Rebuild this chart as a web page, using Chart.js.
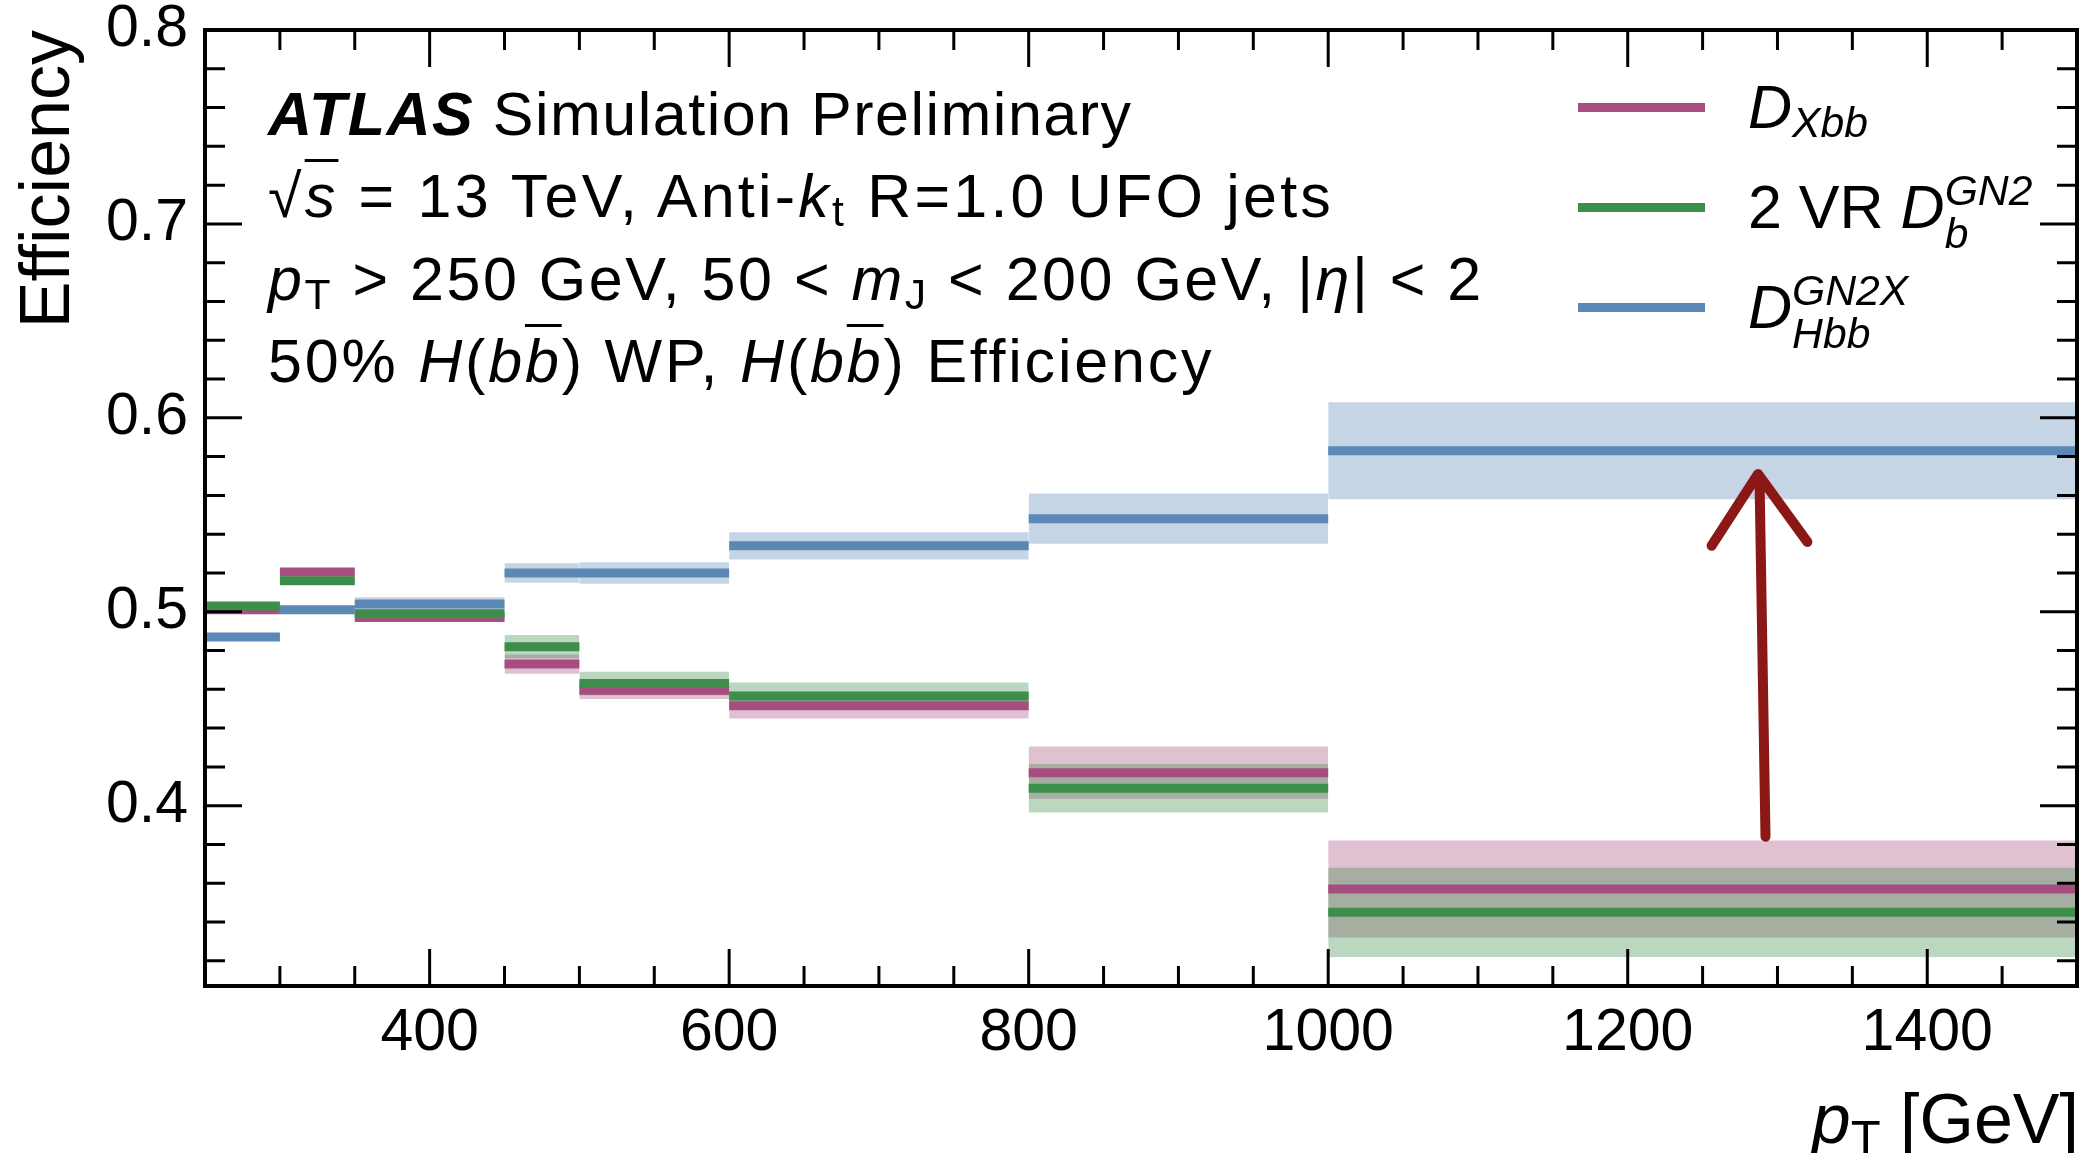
<!DOCTYPE html>
<html>
<head>
<meta charset="utf-8">
<script src="https://cdn.jsdelivr.net/npm/chart.js@4.4.1/dist/chart.umd.min.js"></script>
<style>
  html, body { margin: 0; padding: 0; background: #fff; }
  #wrap { position: relative; width: 2097px; height: 1153px; overflow: hidden;
          font-family: "Liberation Sans", Arial, sans-serif; color: #000; }
  #plot { position: absolute; left: 0; top: 0; }
  .txt { position: absolute; white-space: nowrap; font-size: 61px; line-height: 61px; }
  .note { left: 268px; letter-spacing: 1.5px; }
  .lo { position: relative; top: 0.22em; font-size: 0.7em; line-height: 0; font-style: normal; }
  .ov { text-decoration: overline; text-decoration-thickness: 3px; }
  .swatch { position: absolute; left: 1578px; width: 127px; height: 9px; }
  .leg { left: 1748px; }
  .sub { position: relative; top: 9px; font-size: 0.7em; line-height: 0; }
  .ss { display: inline-flex; flex-direction: column; vertical-align: middle;
        font-size: 0.7em; line-height: 1; margin: -20px 0; font-style: italic; }
</style>
</head>
<body>
<div id="wrap">
  <canvas id="plot" width="2097" height="1153"></canvas>
  <div class="txt note" style="top:84px"><b><i>ATLAS</i></b> Simulation Preliminary</div>
  <div class="txt note" style="top:166px; letter-spacing:3.2px">√<span class="ov"><i>s</i></span> = 13 TeV, Anti-<i>k</i><span class="lo">t</span> R=1.0 UFO jets</div>
  <div class="txt note" style="top:249px; letter-spacing:2.5px"><i>p</i><span class="lo">T</span> &gt; 250 GeV, 50 &lt; <i>m</i><span class="lo">J</span> &lt; 200 GeV, |<i>η</i>| &lt; 2</div>
  <div class="txt note" style="top:331px; letter-spacing:2.8px">50% <i>H</i>(<i>b<span class="ov">b</span></i>) WP, <i>H</i>(<i>b<span class="ov">b</span></i>) Efficiency</div>
  <div class="txt" style="right:18px; top:1084px; font-size:70px; line-height:70px"><i>p</i><span class="lo">T</span> [GeV]</div>
  <div id="legend"></div>
</div>
<script>
// pT bin edges [GeV]
const binEdges = [250, 300, 350, 450, 500, 600, 800, 1000, 1500];

// H(bb) efficiency per bin and half-width of the uncertainty band
const xbbEff = [0.501, 0.5205, 0.497, 0.473, 0.4595, 0.4515, 0.417, 0.357];
const xbbErr = [0.0015, 0.002, 0.002, 0.005, 0.0045, 0.0065, 0.0135, 0.025];

const vrEff = [0.503, 0.516, 0.499, 0.482, 0.463, 0.4565, 0.409, 0.345];
const vrErr = [0.002, 0.002, 0.002, 0.006, 0.006, 0.007, 0.0125, 0.023];

const gn2xEff = [0.487, 0.501, 0.504, 0.520, 0.520, 0.534, 0.548, 0.583];
const gn2xErr = [0.0015, 0.002, 0.0035, 0.005, 0.0055, 0.007, 0.013, 0.025];

// axis tick labels
const xTickLabels = [400, 600, 800, 1000, 1200, 1400];
const yTickLabels = [0.4, 0.5, 0.6, 0.7, 0.8];

// hand drawn arrow (pT, efficiency)
const arrowShaft = [[1292, 0.384], [1288, 0.569]];
const arrowHead = [[1256, 0.534], [1287, 0.571], [1320, 0.536]];

const series = [
    { eff: xbbEff, err: xbbErr, color: "rgb(166,78,127)", band: "rgba(166,78,127,0.35)",
      lineOrder: 0, bandOrder: 3, legend: '<i>D</i><span class="sub"><i>Xbb</i></span>' },
    { eff: vrEff, err: vrErr, color: "rgb(61,141,75)", band: "rgba(61,141,75,0.35)",
      lineOrder: -2, bandOrder: 2, legend: '2 VR <i>D</i><span class="ss"><span>GN2</span><span>b</span></span>' },
    { eff: gn2xEff, err: gn2xErr, color: "rgb(92,136,181)", band: "rgba(92,136,181,0.35)",
      lineOrder: -1, bandOrder: 1, legend: '<i>D</i><span class="ss"><span>GN2X</span><span>Hbb</span></span>' }
];

const datasets = [];
series.forEach(s => {
    // one flat segment per bin, broken between bins
    const line = [];
    s.eff.forEach((v, i) => {
        line.push({ x: binEdges[i], y: v }, { x: binEdges[i + 1], y: v }, { x: binEdges[i + 1], y: null });
    });
    datasets.push({
        data: line, borderColor: s.color, borderWidth: 9, pointRadius: 0,
        fill: false, spanGaps: false, order: s.lineOrder, legendHtml: s.legend
    });
    // uncertainty band per bin
    s.eff.forEach((v, i) => {
        datasets.push({
            data: [{ x: binEdges[i], y: v + s.err[i] }, { x: binEdges[i + 1], y: v + s.err[i] }],
            fill: { value: v - s.err[i] }, backgroundColor: s.band,
            borderColor: "transparent", borderWidth: 0, pointRadius: 0, order: s.bandOrder
        });
    });
});

const arrow = [];
arrowShaft.forEach(p => arrow.push({ x: p[0], y: p[1] }));
arrow.push({ x: arrowShaft[1][0], y: null });
arrowHead.forEach(p => arrow.push({ x: p[0], y: p[1] }));
datasets.push({
    data: arrow, borderColor: "#8b1717", borderWidth: 10, pointRadius: 0, fill: false,
    spanGaps: false, borderCapStyle: "round", borderJoinStyle: "round", order: -5
});

//! inward ticks on all four sides plus the frame
const frameTicks = {
    id: "frameTicks",
    afterDatasetsDraw(chart) {
        const { ctx, chartArea: a, scales: { x, y } } = chart;
        ctx.save();
        ctx.strokeStyle = "#000";
        ctx.lineWidth = 3;
        ctx.beginPath();
        for (let v = Math.ceil(x.min / 50) * 50; v <= x.max; v += 50) {
            const px = x.getPixelForValue(v);
            const len = v % 200 === 0 ? 37 : 20;
            ctx.moveTo(px, a.bottom); ctx.lineTo(px, a.bottom - len);
            ctx.moveTo(px, a.top); ctx.lineTo(px, a.top + len);
        }
        for (let i = Math.ceil(y.min / 0.02 - 1e-6); i * 0.02 <= y.max + 1e-9; i++) {
            const py = y.getPixelForValue(i * 0.02);
            const len = i % 5 === 0 ? 37 : 20;
            ctx.moveTo(a.left, py); ctx.lineTo(a.left + len, py);
            ctx.moveTo(a.right, py); ctx.lineTo(a.right - len, py);
        }
        ctx.stroke();
        ctx.lineWidth = 4;
        ctx.strokeRect(a.left, a.top, a.right - a.left, a.bottom - a.top);
        ctx.restore();
    }
};

const tickFont = { family: "Liberation Sans", size: 59, lineHeight: 1 };

// labels may overhang the plot frame, so drop the scale's own edge padding
const noEdgePad = s => { s.paddingTop = 0; s.paddingBottom = 0; s.paddingLeft = 0; s.paddingRight = 0; };

const chart = new Chart(document.getElementById("plot"), {
    type: "line",
    data: { datasets },
    options: {
        responsive: false,
        animation: false,
        events: [],
        layout: { padding: { top: 30, right: 20, left: 0, bottom: 0 } },
        plugins: {
            legend: { display: false },
            tooltip: { enabled: false },
            filler: { drawTime: "beforeDatasetsDraw" }
        },
        scales: {
            x: {
                type: "linear", min: 250, max: 1500,
                grid: { display: false, drawTicks: false }, border: { display: false },
                afterBuildTicks: s => { s.ticks = xTickLabels.map(v => ({ value: v })); },
                afterFit: s => { s.height = 167; noEdgePad(s); },
                ticks: { font: tickFont, color: "#000", padding: 18, maxRotation: 0, callback: v => String(v) }
            },
            y: {
                type: "linear", min: 0.307, max: 0.8,
                grid: { display: false, drawTicks: false }, border: { display: false },
                afterBuildTicks: s => { s.ticks = yTickLabels.map(v => ({ value: v })); },
                afterFit: s => { s.width = 205; noEdgePad(s); },
                ticks: { font: tickFont, color: "#000", padding: 17, callback: v => v.toFixed(1) },
                title: {
                    display: true, text: "Efficiency", align: "end", color: "#000",
                    font: { family: "Liberation Sans", size: 70, lineHeight: 1.2 },
                    padding: { top: 8, bottom: 0 }
                }
            }
        }
    },
    plugins: [frameTicks]
});

//! HTML legend built from the chart's own datasets
const legendBox = document.getElementById("legend");
chart.data.datasets.filter(d => d.legendHtml).forEach((d, i) => {
    const cy = 107 + i * 100;
    const sw = document.createElement("div");
    sw.className = "swatch";
    sw.style.top = (cy - 4.5) + "px";
    sw.style.background = d.borderColor;
    legendBox.appendChild(sw);
    const lab = document.createElement("div");
    lab.className = "txt leg";
    lab.style.top = (cy - 30) + "px";
    lab.innerHTML = d.legendHtml;
    legendBox.appendChild(lab);
});
</script>
</body>
</html>
